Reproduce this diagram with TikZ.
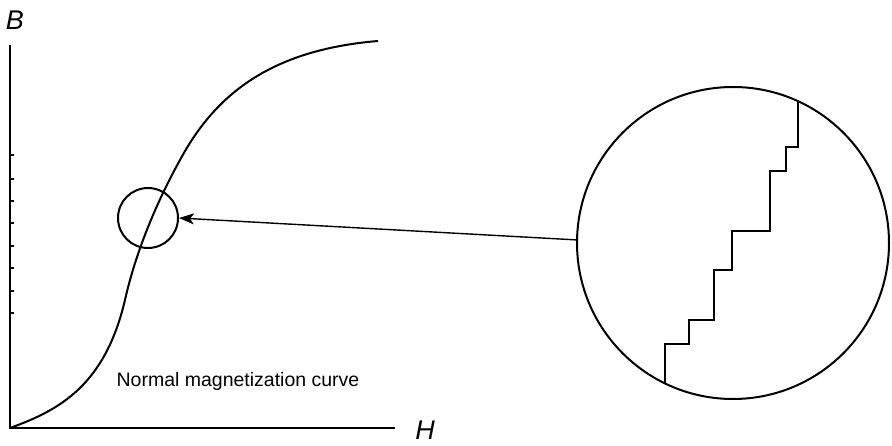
\documentclass[tikz,border=0pt]{standalone}
\usepackage{fontspec}
\setmainfont{Liberation Sans}
\usetikzlibrary{arrows.meta}
\begin{document}
\begin{tikzpicture}[x=1pt,y=-1pt,line width=2pt,
  lbl/.style={font=\fontsize{27}{30}\selectfont\itshape},
  txt/.style={font=\fontsize{19.5}{24}\selectfont}]
\useasboundingbox (0,0) rectangle (892,446);
\coordinate (O) at (10,428);
\coordinate (Ytop) at (10,45);
\coordinate (Xend) at (395,428);
\draw (Ytop) -- (O) -- (Xend);
\foreach \y in {155,179,201,223,246,268,291,313} \draw[line width=1.4pt] (10,\y) -- (14,\y);
\node[lbl] (B) at (15,20) {B};
\node[lbl] (H) at (425,430) {H};
\draw (O) .. controls (60,410) and (105,385) .. (125,300)
  .. controls (135,255) and (155,205) .. (180,160)
  .. controls (215,95) and (270,50) .. (378,41);
\node[draw,circle,minimum size=60pt,inner sep=0pt] (small) at (148,218) {};
\node[draw,circle,minimum size=312pt,inner sep=0pt] (big) at (733,243) {};
\coordinate (a) at (578,240);
\draw[-{Stealth[length=15pt,width=11pt,inset=4pt]},line width=1.4pt] (a) -- (small.east);
\draw (665,384) |- (689,344) |- (714,320) |- (732,270) |- (770,231) |- (786,171) |- (798,147) -- (798,101);
\node[txt] (cap) at (238,381) {Normal magnetization curve};
\end{tikzpicture}
\end{document}
